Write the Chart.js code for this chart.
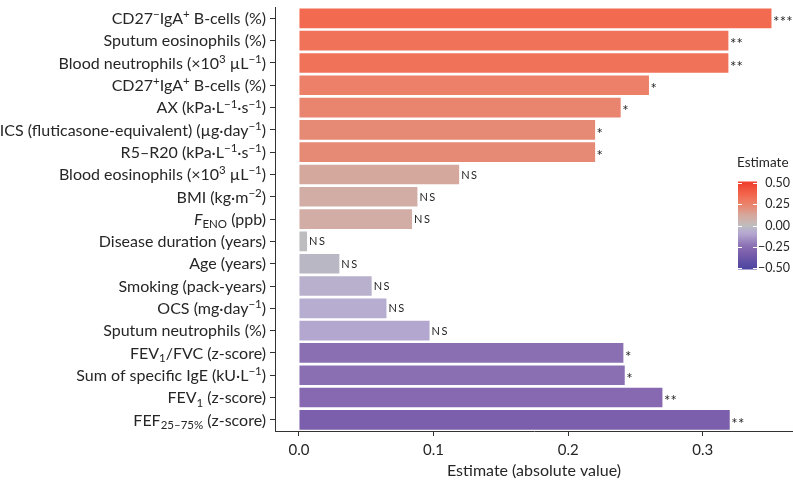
<!DOCTYPE html>
<html><head><meta charset="utf-8">
<script src="https://cdn.jsdelivr.net/npm/chart.js@4.4.1/dist/chart.umd.min.js"></script>
<style>html,body{margin:0;padding:0;background:#fff}#wrap{width:793px;height:482px;position:relative}</style>
</head><body><div id="wrap"><canvas id="c"></canvas></div>
<script>
const categories = [
  "CD27⁻IgA⁺ B-cells (%)",
  "Sputum eosinophils (%)",
  "Blood neutrophils (×10³ µL⁻¹)",
  "CD27⁺IgA⁺ B-cells (%)",
  "AX (kPa·L⁻¹·s⁻¹)",
  "ICS (fluticasone-equivalent) (µg·day⁻¹)",
  "R5–R20 (kPa·L⁻¹·s⁻¹)",
  "Blood eosinophils (×10³ µL⁻¹)",
  "BMI (kg·m⁻²)",
  "FENO (ppb)",
  "Disease duration (years)",
  "Age (years)",
  "Smoking (pack-years)",
  "OCS (mg·day⁻¹)",
  "Sputum neutrophils (%)",
  "FEV₁/FVC (z-score)",
  "Sum of specific IgE (kU·L⁻¹)",
  "FEV₁ (z-score)",
  "FEF25–75% (z-score)"
];
// signed estimates (colour), bar length = absolute value
const estimates = [0.351, 0.319, 0.319, 0.260, 0.239, 0.220, 0.220, 0.119, 0.088, 0.084,
  -0.006, -0.030, -0.054, -0.065, -0.097, -0.241, -0.242, -0.270, -0.320];
const significance = ["***","**","**","*","*","*","*","NS","NS","NS",
  "NS","NS","NS","NS","NS","*","*","**","**"];
const xTicks = [0, 0.1, 0.2, 0.3];
const legendTicks = [0.5, 0.25, 0, -0.25, -0.5];
const legendTitle = "Estimate";
const xTitle = "Estimate (absolute value)";

const FONT = "Lato, 'Noto Sans', sans-serif";
const TXT = "#262626";

// ---- diverging colour palette (fraction of limit 0.5 -> colour) ----
const posStops = [[0,'#BEBEBE'],[0.17,'#D2ADA6'],[0.24,'#D5A89D'],[0.44,'#E68A75'],[0.52,'#EC8068'],[0.64,'#EF7259'],[0.70,'#F26A50'],[1,'#F03F2E']];
const negStops = [[0,'#BEBEBE'],[0.06,'#BAB7C4'],[0.13,'#B7ADD0'],[0.2,'#B3A6CF'],[0.48,'#8A70B3'],[0.54,'#8669B0'],[0.64,'#7B5FAC'],[1,'#4F46A1']];
function hex2rgb(h){h=h.replace('#','');return [0,2,4].map(i=>parseInt(h.substr(i,2),16));}
function colorFor(v){
  const t=Math.min(1,Math.abs(v)/0.5);const st=v>=0?posStops:negStops;
  for(let i=1;i<st.length;i++){
    if(t<=st[i][0]){const a=hex2rgb(st[i-1][1]),b=hex2rgb(st[i][1]);const f=(t-st[i-1][0])/(st[i][0]-st[i-1][0]);
      const c=a.map((x,k)=>Math.round(x+(b[k]-x)*f));return `rgb(${c[0]},${c[1]},${c[2]})`;}
  }
  return st[st.length-1][1];
}

// ---- rich text for axis labels ----
const SUP={'⁻':'−','⁺':'+','¹':'1','²':'2','³':'3'};
const SUB={'₁':'1','₂':'2','₅':'5','₇':'7','₋':'–'};
function segmentsFor(label){
  if(label.startsWith('FENO')) return [{t:'F',k:'it'},{t:'ENO',k:'sub'},{t:label.slice(4),k:'n'}];
  if(label.startsWith('FEF25–75%')) return [{t:'FEF',k:'n'},{t:'25–75%',k:'sub'},{t:label.slice(9),k:'n'}];
  const segs=[];
  for(const ch of label){
    let k='n',c=ch;
    if(SUP[ch]){k='sup';c=SUP[ch];} else if(SUB[ch]){k='sub';c=SUB[ch];}
    if(segs.length&&segs[segs.length-1].k===k) segs[segs.length-1].t+=c; else segs.push({t:c,k});
  }
  return segs;
}
function fontFor(k,size){
  if(k==='sup'||k==='sub') return `${(size*0.72).toFixed(1)}px ${FONT}`;
  if(k==='it') return `italic ${size}px ${FONT}`;
  return `${size}px ${FONT}`;
}
function drawRich(ctx,label,xRight,yMid,size){
  const segs=segmentsFor(label);
  let w=0;segs.forEach(s=>{ctx.font=fontFor(s.k,size);s.w=ctx.measureText(s.t).width;w+=s.w;});
  let x=xRight-w;const base=yMid+size*0.36;
  ctx.textAlign='left';ctx.textBaseline='alphabetic';
  segs.forEach(s=>{ctx.font=fontFor(s.k,size);
    let y=base;if(s.k==='sup')y=base-size*0.36;if(s.k==='sub')y=base+size*0.2;
    ctx.fillText(s.t,x,y);x+=s.w;});
}

const overlay={
  id:'overlay',
  afterDraw(chart){
    const ctx=chart.ctx,ys=chart.scales.y;
    ctx.save();ctx.fillStyle=TXT;
    categories.forEach((lab,i)=>{drawRich(ctx,lab,266,ys.getPixelForValue(i),16);});
    // significance labels
    const meta=chart.getDatasetMeta(0);
    meta.data.forEach((bar,i)=>{
      const s=significance[i];ctx.fillStyle=TXT;
      if(s==='NS'){ctx.font=`11px ${FONT}`;ctx.letterSpacing='1.5px';ctx.textAlign='left';ctx.textBaseline='middle';
        ctx.fillText(s,bar.x+2,bar.y+0.5);}
      else{ctx.font=`15px ${FONT}`;ctx.letterSpacing='0.3px';ctx.textAlign='left';ctx.textBaseline='alphabetic';
        ctx.fillText(s,bar.x+1.5,bar.y+8.8);}
    });
    ctx.letterSpacing='0px';
    // colour bar legend
    const bx=738,bw=19,yTop=183,yBot=268;
    const yv=v=>yTop+(0.5-v)*(yBot-yTop);
    const g=ctx.createLinearGradient(0,yv(0.5),0,yv(-0.5));
    for(let k=0;k<=40;k++){const v=0.5-k*0.025;g.addColorStop(k/40,colorFor(v));}
    ctx.fillStyle=g;ctx.fillRect(bx,yv(0.5)-1.5,bw,(yv(-0.5)-yv(0.5))+3);
    ctx.strokeStyle='#ffffff';ctx.lineWidth=1;
    legendTicks.forEach(v=>{const y=Math.round(yv(v))+0.5;ctx.beginPath();
      ctx.moveTo(bx,y);ctx.lineTo(bx+4,y);ctx.moveTo(bx+bw-4,y);ctx.lineTo(bx+bw,y);ctx.stroke();});
    ctx.fillStyle=TXT;ctx.font=`12.5px ${FONT}`;ctx.textAlign='right';ctx.textBaseline='middle';
    legendTicks.forEach(v=>{const t=(v<0?'−':'')+Math.abs(v).toFixed(2);ctx.fillText(t,790,yv(v));});
    ctx.font=`13.5px ${FONT}`;ctx.textAlign='left';ctx.fillText(legendTitle,737,163);
    ctx.restore();
  }
};

Chart.defaults.font.family=FONT;
new Chart(document.getElementById('c'),{
  type:'bar',
  data:{labels:categories,datasets:[{data:estimates.map(v=>Math.abs(v)),
    backgroundColor:estimates.map(colorFor),borderWidth:0,barPercentage:0.88,categoryPercentage:1}]},
  options:{
    indexAxis:'y',responsive:true,maintainAspectRatio:false,animation:false,
    layout:{padding:{left:0,right:0,top:1,bottom:0}},
    plugins:{legend:{display:false},tooltip:{enabled:false}},
    scales:{
      x:{type:'linear',min:-0.0178,max:0.367,
        afterBuildTicks:s=>{s.ticks=xTicks.map(v=>({value:v}));},
        afterFit:s=>{s.height=51;},
        grid:{drawOnChartArea:false,drawTicks:true,tickLength:5,color:'#333'},
        border:{color:'#333',width:1},
        ticks:{font:{size:15,family:FONT},color:TXT,padding:5,callback:v=>v.toFixed(1)},
        title:{display:true,text:xTitle,font:{size:16,family:FONT},color:TXT,padding:{top:0,bottom:2}}},
      y:{type:'category',
        afterFit:s=>{s.width=275;},
        grid:{drawOnChartArea:false,drawTicks:true,tickLength:5,color:'#333',offset:false},
        border:{color:'#333',width:1},
        ticks:{autoSkip:false,callback:()=>'',padding:0}}
    }
  },
  plugins:[overlay]
});
</script></body></html>
